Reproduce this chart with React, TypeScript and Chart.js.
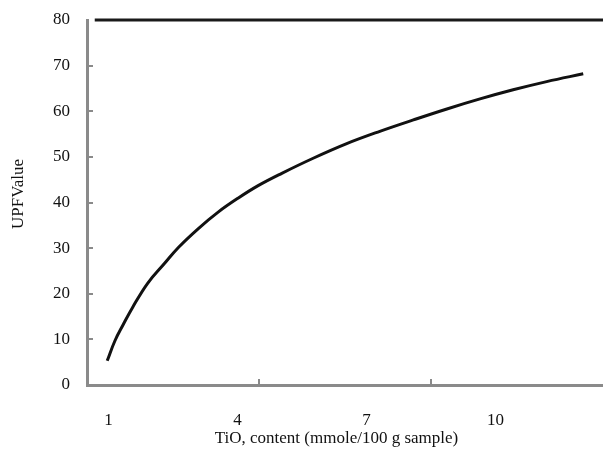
import React, { useEffect, useRef } from "react";
import { Chart, registerables } from "chart.js";

Chart.register(...registerables);

const xValues = [0.97, 1.15, 1.34, 1.56, 1.91, 2.29, 2.62, 3.09, 3.55, 4.02, 4.48, 5.03, 5.76, 6.54, 7.31, 8.09, 8.87, 9.64, 10.41, 11.19, 12.04];
const upfValues = [5.3, 9.7, 13.2, 17.0, 22.3, 26.5, 30.1, 34.3, 37.9, 41.0, 43.7, 46.4, 49.7, 52.9, 55.6, 58.1, 60.5, 62.7, 64.7, 66.5, 68.2];
const topLineX = [0.68, 12.5];
const topLineY = [80, 80];
const xTickLabels = [1, 4, 7, 10];
const xTickMarks = [4.5, 8.5];
const yTickMarks = [10, 20, 30, 40, 50, 60, 70];

const AXIS_GRAY = "#8a8a8a";
const FONT = { family: "'Liberation Serif', 'DejaVu Serif', serif", size: 17 };

const innerTicks = {
  id: "innerTicks",
  afterDraw(chart: any) {
    const { ctx, chartArea } = chart;
    const xs = chart.scales.x;
    const ys = chart.scales.y;
    ctx.save();
    ctx.strokeStyle = AXIS_GRAY;
    ctx.lineWidth = 2;
    ctx.beginPath();
    yTickMarks.forEach((v) => {
      const py = Math.round(ys.getPixelForValue(v));
      ctx.moveTo(chartArea.left, py);
      ctx.lineTo(chartArea.left + 6, py);
    });
    xTickMarks.forEach((v) => {
      const px = Math.round(xs.getPixelForValue(v));
      ctx.moveTo(px, chartArea.bottom);
      ctx.lineTo(px, chartArea.bottom - 6);
    });
    ctx.stroke();
    ctx.restore();
  },
};

export default function App() {
  const ref = useRef<HTMLCanvasElement | null>(null);

  useEffect(() => {
    if (!ref.current) return;
    const chart = new Chart(ref.current, {
      type: "line",
      data: {
        datasets: [
          {
            data: xValues.map((x, i) => ({ x, y: upfValues[i] })),
            borderColor: "#111111",
            borderWidth: 3,
            pointRadius: 0,
            tension: 0.4,
            fill: false,
          },
          {
            data: topLineX.map((x, i) => ({ x, y: topLineY[i] })),
            borderColor: "#1a1a1a",
            borderWidth: 3,
            pointRadius: 0,
            fill: false,
            clip: false as any,
          },
        ],
      },
      options: {
        animation: false,
        responsive: false,
        layout: { padding: { top: 20, left: 0, right: 0, bottom: 0 } },
        plugins: { legend: { display: false }, tooltip: { enabled: false } },
        scales: {
          x: {
            type: "linear",
            min: 0.5,
            max: 12.5,
            afterBuildTicks: (s: any) => {
              s.ticks = xTickLabels.map((v) => ({ value: v }));
            },
            afterFit: (s: any) => {
              s.height = 64;
              s.paddingLeft = 0;
              s.paddingRight = 0;
            },
            grid: { display: false, drawTicks: false },
            border: { display: true, color: AXIS_GRAY, width: 3 },
            ticks: { color: "#111", font: FONT, padding: 25, maxRotation: 0, autoSkip: false },
            title: {
              display: true,
              text: "TiO, content (mmole/100 g sample)    ",
              color: "#111",
              font: FONT,
              padding: { top: 0, bottom: 0 },
            },
          },
          y: {
            type: "linear",
            min: 0,
            max: 80,
            ticks: { stepSize: 10, color: "#111", font: FONT, padding: 17 },
            afterFit: (s: any) => {
              s.width = 87;
              s.paddingTop = 0;
              s.paddingBottom = 0;
            },
            grid: { display: false, drawTicks: false },
            border: { display: true, color: AXIS_GRAY, width: 3 },
            title: {
              display: true,
              text: "    UPFValue",
              color: "#111",
              font: FONT,
              padding: { top: 8, bottom: 0 },
            },
          },
        },
      },
      plugins: [innerTicks],
    });
    return () => chart.destroy();
  }, []);

  return (
    <div style={{ position: "fixed", left: 0, top: 0, width: 603, height: 449, background: "#fff" }}>
      <canvas ref={ref} width={603} height={449} style={{ display: "block" }} />
    </div>
  );
}
